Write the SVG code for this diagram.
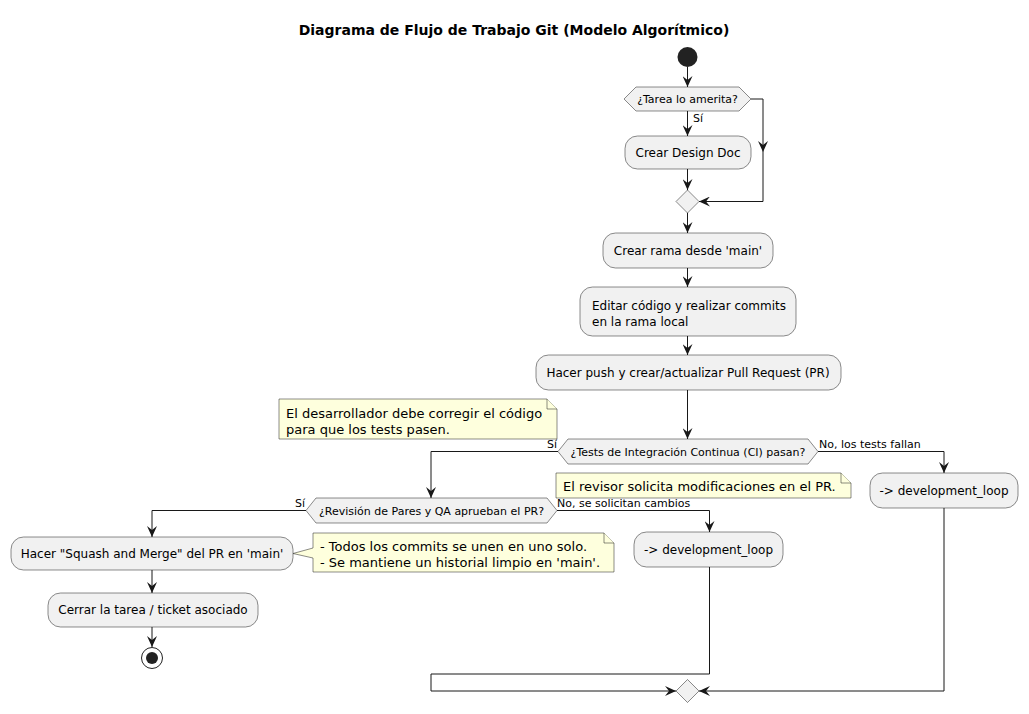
<svg xmlns="http://www.w3.org/2000/svg" width="1029" height="714" viewBox="0 0 1029 714">
<style>
.box{fill:#F1F1F1;stroke:#181818;stroke-width:0.5}
.note{fill:#FEFFDD;stroke:#181818;stroke-width:0.5}
.t{font-family:"DejaVu Sans",sans-serif;font-size:12px;fill:#000}
.s{font-family:"DejaVu Sans",sans-serif;font-size:11px;fill:#000}
.n{font-family:"DejaVu Sans",sans-serif;font-size:13px;fill:#000}
.c{text-anchor:middle}
.ln{fill:none;stroke:#181818;stroke-width:1}
</style>
<defs>
<marker id="ah" viewBox="0 0 11 10" refX="11" refY="5" markerWidth="11" markerHeight="10" markerUnits="userSpaceOnUse" orient="auto">
<path d="M0,0 L11,5 L0,10 L4,5 Z" fill="#181818"/>
</marker>
</defs>
<rect width="1029" height="714" fill="#FFFFFF"/>
<text x="514" y="35" font-family="DejaVu Sans,sans-serif" font-size="14" font-weight="bold" text-anchor="middle">Diagrama de Flujo de Trabajo Git (Modelo Algorítmico)</text>

<g id="connectors">
<path class="ln" d="M687.5,67 V87" marker-end="url(#ah)"/>
<path class="ln" d="M687.5,111 V136" marker-end="url(#ah)"/>
<path class="ln" d="M687.5,169 V190" marker-end="url(#ah)"/>
<path class="ln" d="M751,99 H763 V152" marker-end="url(#ah)"/>
<path class="ln" d="M763,152 V201.5 H699" marker-end="url(#ah)"/>
<path class="ln" d="M687.5,213 V233" marker-end="url(#ah)"/>
<path class="ln" d="M687.5,268 V287" marker-end="url(#ah)"/>
<path class="ln" d="M687.5,336 V355" marker-end="url(#ah)"/>
<path class="ln" d="M687.5,390 V439" marker-end="url(#ah)"/>
<path class="ln" d="M558,451.5 H431 V498" marker-end="url(#ah)"/>
<path class="ln" d="M818,451.5 H944 V473" marker-end="url(#ah)"/>
<path class="ln" d="M306,510.5 H152 V537" marker-end="url(#ah)"/>
<path class="ln" d="M557,510.5 H709.5 V532" marker-end="url(#ah)"/>
<path class="ln" d="M152,570 V593" marker-end="url(#ah)"/>
<path class="ln" d="M152,627 V647" marker-end="url(#ah)"/>
<path class="ln" d="M709.5,567 V674 H431 V691 H676" marker-end="url(#ah)"/>
<path class="ln" d="M944,508 V691 H699" marker-end="url(#ah)"/>
<text class="s" x="693" y="122">Sí</text>
<text class="s" x="557" y="448" text-anchor="end">Sí</text>
<text class="s" x="819" y="448">No, los tests fallan</text>
<text class="s" x="305" y="507" text-anchor="end">Sí</text>
<text class="s" x="557" y="507">No, se solicitan cambios</text>
</g>

<g id="start"><circle cx="687.5" cy="57" r="10" fill="#222222"/></g>
<g id="dec_tarea">
<polygon class="box" points="624,99 636,87 739,87 751,99 739,111 636,111"/>
<text class="s c" x="687.5" y="103">¿Tarea lo amerita?</text>
</g>
<g id="design_doc">
<rect class="box" x="625" y="136" width="126" height="33" rx="12.5"/>
<text class="t c" x="688" y="157">Crear Design Doc</text>
</g>
<g id="merge1"><polygon class="box" points="687.5,190 699,201.5 687.5,213 676,201.5"/></g>
<g id="crear_rama">
<rect class="box" x="603" y="233" width="170" height="35" rx="12.5"/>
<text class="t c" x="688" y="255">Crear rama desde 'main'</text>
</g>
<g id="editar">
<rect class="box" x="580" y="287" width="216" height="49" rx="12.5"/>
<text class="t" x="592" y="310">Editar código y realizar commits</text>
<text class="t" x="592" y="326">en la rama local</text>
</g>
<g id="push">
<rect class="box" x="536" y="355" width="305" height="35" rx="12.5"/>
<text class="t c" x="688" y="377">Hacer push y crear/actualizar Pull Request (PR)</text>
</g>
<g id="note1">
<path class="note" d="M279,399 H547 L557,409 V439 H279 Z"/>
<path class="note" d="M547,399 V409 H557" fill="none"/>
<text class="n" x="286" y="418">El desarrollador debe corregir el código</text>
<text class="n" x="286" y="434">para que los tests pasen.</text>
</g>
<g id="dec_ci">
<polygon class="box" points="558,451.5 568,439 808,439 818,451.5 808,464 568,464"/>
<text class="s c" x="688" y="455.5">¿Tests de Integración Continua (CI) pasan?</text>
</g>
<g id="dev_loop_1">
<rect class="box" x="870" y="473" width="148" height="35" rx="12.5"/>
<text class="t c" x="944" y="495">-&gt; development_loop</text>
</g>
<g id="note2">
<path class="note" d="M556,473 H841 L851,483 V498 H556 Z"/>
<path class="note" d="M841,473 V483 H851" fill="none"/>
<text class="n" x="563" y="491">El revisor solicita modificaciones en el PR.</text>
</g>
<g id="dec_review">
<polygon class="box" points="306,510.5 316,498 547,498 557,510.5 547,523 316,523"/>
<text class="s c" x="431.5" y="514.5">¿Revisión de Pares y QA aprueban el PR?</text>
</g>
<g id="dev_loop_2">
<rect class="box" x="634" y="532" width="149" height="35" rx="12.5"/>
<text class="t c" x="708.5" y="554">-&gt; development_loop</text>
</g>
<g id="squash">
<rect class="box" x="11" y="537" width="282" height="33" rx="12.5"/>
<text class="t c" x="152" y="558">Hacer "Squash and Merge" del PR en 'main'</text>
</g>
<g id="note3">
<path class="note" d="M313,533 H604 L614,543 V572 H313 V558 L293,553.5 L313,548 Z"/>
<path class="note" d="M604,533 V543 H614" fill="none"/>
<text class="n" x="320" y="551">- Todos los commits se unen en uno solo.</text>
<text class="n" x="320" y="567">- Se mantiene un historial limpio en 'main'.</text>
</g>
<g id="cerrar">
<rect class="box" x="48" y="593" width="210" height="34" rx="12.5"/>
<text class="t c" x="153" y="614">Cerrar la tarea / ticket asociado</text>
</g>
<g id="end">
<circle cx="152" cy="658" r="10.5" fill="#FFFFFF" stroke="#222222" stroke-width="1"/>
<circle cx="152" cy="658" r="6" fill="#222222"/>
</g>
<g id="merge_end"><polygon class="box" points="687.5,679.5 699,691 687.5,702.5 676,691"/></g>
</svg>
